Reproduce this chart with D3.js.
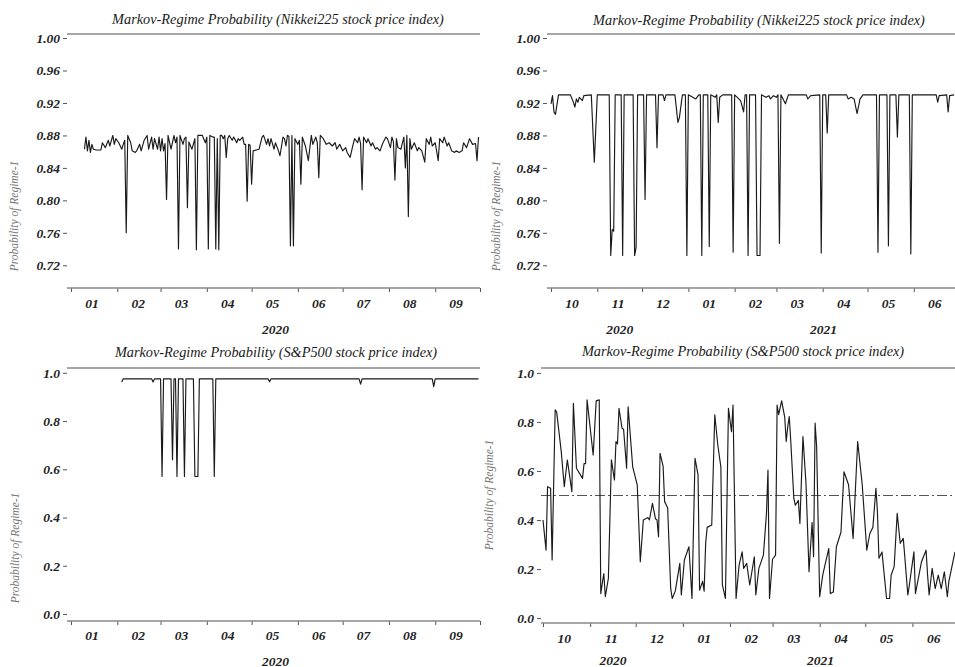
<!DOCTYPE html>
<html>
<head>
<meta charset="utf-8">
<script src="https://cdn.jsdelivr.net/npm/d3@7"></script>
<style>
  body { margin: 0; background: #fff; }
  svg text { font-family: "Liberation Serif", "Times New Roman", serif; }
  .title { font-style: italic; font-size: 14.3px; fill: #1a1a1a; }
  .axis text, .mlabel, .ylabel-yr { font-style: italic; font-weight: bold; font-size: 13.5px; fill: #222; }
  .ytitle { font-style: italic; font-size: 11.5px; fill: #777; }
  .axis line { stroke: #555; }
  .frame { stroke: #888; stroke-width: 1.5; }
  .series { fill: none; stroke: #1a1a1a; stroke-width: 1.15; stroke-linejoin: round; }
  .ref { stroke: #555; stroke-width: 1; stroke-dasharray: 10,3,2,3; }
</style>
</head>
<body>
<svg id="chart" width="955" height="667"></svg>
<script>
(function () {
  // Nikkei225, Jan-Sep 2020
  const nikkei2020 = [
    ["2020-01-10",.863],["2020-01-11",.878],["2020-01-12",.861],["2020-01-13",.874],["2020-01-14",.859],
    ["2020-01-15",.869],["2020-01-16",.863],["2020-01-18",.862],["2020-01-21",.862],["2020-01-22",.871],
    ["2020-01-24",.865],["2020-01-26",.874],["2020-01-27",.867],["2020-01-29",.880],["2020-01-30",.869],
    ["2020-01-31",.876],["2020-02-02",.871],["2020-02-04",.863],["2020-02-05",.869],["2020-02-06",.874],
    ["2020-02-07",.760],["2020-02-08",.880],["2020-02-10",.871],["2020-02-11",.861],["2020-02-13",.859],
    ["2020-02-14",.861],["2020-02-16",.869],["2020-02-17",.861],["2020-02-19",.874],["2020-02-21",.880],
    ["2020-02-22",.863],["2020-02-24",.878],["2020-02-25",.863],["2020-02-26",.876],["2020-02-28",.863],
    ["2020-02-29",.878],["2020-03-01",.861],["2020-03-02",.876],["2020-03-03",.861],["2020-03-04",.870],
    ["2020-03-05",.801],["2020-03-06",.880],["2020-03-08",.863],["2020-03-10",.880],["2020-03-11",.871],
    ["2020-03-12",.878],["2020-03-13",.740],["2020-03-14",.880],["2020-03-16",.869],["2020-03-17",.876],
    ["2020-03-18",.878],["2020-03-19",.791],["2020-03-20",.872],["2020-03-22",.863],["2020-03-24",.876],
    ["2020-03-25",.739],["2020-03-26",.880],["2020-03-29",.880],["2020-03-31",.871],["2020-04-01",.878],
    ["2020-04-02",.740],["2020-04-03",.880],["2020-04-05",.878],["2020-04-06",.878],["2020-04-07",.740],
    ["2020-04-08",.876],["2020-04-09",.739],["2020-04-10",.880],["2020-04-11",.880],["2020-04-12",.876],
    ["2020-04-13",.880],["2020-04-14",.853],["2020-04-15",.876],["2020-04-16",.880],["2020-04-18",.874],
    ["2020-04-19",.878],["2020-04-21",.871],["2020-04-22",.876],["2020-04-23",.874],["2020-04-25",.878],
    ["2020-04-26",.869],["2020-04-27",.869],["2020-04-28",.799],["2020-04-29",.869],["2020-04-30",.868],
    ["2020-05-01",.820],["2020-05-02",.861],["2020-05-04",.862],["2020-05-06",.863],["2020-05-08",.878],
    ["2020-05-09",.880],["2020-05-11",.869],["2020-05-12",.876],["2020-05-13",.867],["2020-05-14",.876],
    ["2020-05-16",.863],["2020-05-17",.871],["2020-05-19",.861],["2020-05-20",.855],["2020-05-22",.878],
    ["2020-05-23",.876],["2020-05-24",.867],["2020-05-25",.880],["2020-05-26",.879],["2020-05-27",.744],
    ["2020-05-28",.880],["2020-05-29",.744],["2020-05-30",.876],["2020-06-01",.869],["2020-06-02",.874],
    ["2020-06-03",.820],["2020-06-04",.878],["2020-06-06",.867],["2020-06-08",.849],["2020-06-10",.880],
    ["2020-06-11",.869],["2020-06-13",.878],["2020-06-14",.871],["2020-06-15",.828],["2020-06-16",.880],
    ["2020-06-18",.876],["2020-06-20",.869],["2020-06-22",.871],["2020-06-24",.867],["2020-06-26",.871],
    ["2020-06-27",.863],["2020-06-29",.869],["2020-07-01",.861],["2020-07-03",.865],["2020-07-04",.859],
    ["2020-07-06",.853],["2020-07-08",.869],["2020-07-09",.876],["2020-07-11",.871],["2020-07-12",.878],
    ["2020-07-13",.870],["2020-07-14",.813],["2020-07-15",.878],["2020-07-17",.871],["2020-07-18",.876],
    ["2020-07-20",.867],["2020-07-21",.871],["2020-07-23",.863],["2020-07-24",.865],["2020-07-26",.861],
    ["2020-07-28",.871],["2020-07-30",.878],["2020-07-31",.876],["2020-08-02",.865],["2020-08-03",.878],
    ["2020-08-04",.872],["2020-08-05",.825],["2020-08-06",.876],["2020-08-07",.865],["2020-08-09",.863],
    ["2020-08-11",.878],["2020-08-12",.840],["2020-08-13",.880],["2020-08-14",.780],["2020-08-15",.876],
    ["2020-08-16",.863],["2020-08-18",.871],["2020-08-20",.861],["2020-08-21",.865],["2020-08-23",.861],
    ["2020-08-25",.847],["2020-08-26",.876],["2020-08-28",.869],["2020-08-29",.878],["2020-08-30",.867],
    ["2020-09-01",.871],["2020-09-03",.849],["2020-09-04",.876],["2020-09-06",.871],["2020-09-07",.878],
    ["2020-09-09",.867],["2020-09-10",.871],["2020-09-12",.861],["2020-09-14",.859],["2020-09-15",.861],
    ["2020-09-17",.859],["2020-09-19",.861],["2020-09-20",.871],["2020-09-22",.865],["2020-09-24",.876],
    ["2020-09-26",.869],["2020-09-28",.870],["2020-09-29",.849],["2020-09-30",.878]
  ];

  // Nikkei225, Oct 2020 - Jun 2021
  const nikkei2021 = [
    ["2020-10-01",.919],["2020-10-02",.929],["2020-10-03",.909],["2020-10-04",.906],["2020-10-06",.930],
    ["2020-10-14",.930],["2020-10-16",.921],["2020-10-17",.915],["2020-10-18",.925],["2020-10-19",.921],
    ["2020-10-20",.927],["2020-10-22",.923],["2020-10-23",.929],["2020-10-28",.930],["2020-10-30",.847],
    ["2020-11-01",.930],["2020-11-09",.930],["2020-11-10",.732],["2020-11-11",.764],["2020-11-12",.762],
    ["2020-11-13",.930],["2020-11-17",.930],["2020-11-18",.732],["2020-11-19",.930],["2020-11-25",.930],
    ["2020-11-26",.732],["2020-11-27",.742],["2020-11-28",.930],["2020-12-02",.930],["2020-12-03",.801],
    ["2020-12-04",.930],["2020-12-10",.930],["2020-12-11",.865],["2020-12-12",.930],["2020-12-15",.930],
    ["2020-12-16",.923],["2020-12-17",.930],["2020-12-23",.930],["2020-12-25",.896],["2020-12-26",.902],
    ["2020-12-28",.930],["2020-12-30",.930],["2020-12-31",.732],["2021-01-01",.930],["2021-01-06",.925],
    ["2021-01-08",.930],["2021-01-09",.930],["2021-01-10",.732],["2021-01-11",.930],["2021-01-14",.930],
    ["2021-01-15",.743],["2021-01-16",.930],["2021-01-19",.927],["2021-01-20",.930],["2021-01-21",.896],
    ["2021-01-22",.927],["2021-01-24",.930],["2021-01-30",.930],["2021-01-31",.736],["2021-02-01",.930],
    ["2021-02-05",.923],["2021-02-07",.909],["2021-02-08",.930],["2021-02-09",.930],["2021-02-10",.732],
    ["2021-02-11",.930],["2021-02-15",.930],["2021-02-16",.732],["2021-02-18",.732],["2021-02-19",.930],
    ["2021-02-22",.927],["2021-02-24",.929],["2021-02-25",.925],["2021-02-27",.929],["2021-03-01",.927],
    ["2021-03-02",.930],["2021-03-03",.747],["2021-03-04",.930],["2021-03-07",.919],["2021-03-09",.930],
    ["2021-03-21",.930],["2021-03-22",.925],["2021-03-24",.929],["2021-03-30",.930],["2021-03-31",.735],
    ["2021-04-01",.930],["2021-04-03",.930],["2021-04-04",.883],["2021-04-05",.930],["2021-04-17",.930],
    ["2021-04-18",.925],["2021-04-20",.927],["2021-04-22",.925],["2021-04-24",.907],["2021-04-26",.925],
    ["2021-04-28",.930],["2021-05-07",.930],["2021-05-08",.736],["2021-05-09",.930],["2021-05-14",.930],
    ["2021-05-15",.744],["2021-05-16",.930],["2021-05-20",.930],["2021-05-21",.878],["2021-05-22",.930],
    ["2021-05-29",.930],["2021-05-30",.734],["2021-05-31",.930],["2021-06-16",.930],["2021-06-17",.921],
    ["2021-06-18",.929],["2021-06-23",.930],["2021-06-24",.909],["2021-06-25",.929],["2021-06-28",.930]
  ];

  // S&P500, Feb-Sep 2020
  const sp2020 = [
    ["2020-02-04",.962],["2020-02-05",.975],["2020-02-24",.975],["2020-02-25",.962],["2020-02-26",.975],
    ["2020-03-01",.975],["2020-03-02",.57],["2020-03-03",.975],["2020-03-08",.975],["2020-03-09",.64],
    ["2020-03-10",.975],["2020-03-11",.975],["2020-03-12",.57],["2020-03-13",.975],["2020-03-16",.975],
    ["2020-03-17",.57],["2020-03-18",.975],["2020-03-23",.975],["2020-03-24",.57],["2020-03-26",.57],
    ["2020-03-27",.975],["2020-04-05",.975],["2020-04-06",.57],["2020-04-07",.975],["2020-05-12",.975],
    ["2020-05-13",.963],["2020-05-14",.975],["2020-07-12",.975],["2020-07-13",.953],["2020-07-14",.975],
    ["2020-08-30",.975],["2020-08-31",.943],["2020-09-01",.975],["2020-09-30",.975]
  ];

  // S&P500, Oct 2020 - Jun 2021
  const sp2021 = [
    ["2020-10-01",.40],["2020-10-03",.277],["2020-10-04",.536],["2020-10-06",.53],["2020-10-07",.237],
    ["2020-10-09",.849],["2020-10-10",.84],["2020-10-13",.679],["2020-10-15",.536],["2020-10-17",.645],
    ["2020-10-20",.516],["2020-10-21",.876],["2020-10-23",.611],["2020-10-27",.57],["2020-10-28",.63],
    ["2020-10-29",.63],["2020-10-30",.89],["2020-11-03",.665],["2020-11-05",.886],["2020-11-07",.89],
    ["2020-11-08",.10],["2020-11-10",.182],["2020-11-11",.087],["2020-11-13",.162],["2020-11-15",.645],
    ["2020-11-17",.563],["2020-11-18",.72],["2020-11-19",.71],["2020-11-20",.856],["2020-11-22",.774],
    ["2020-11-23",.77],["2020-11-25",.611],["2020-11-26",.862],["2020-11-29",.617],["2020-12-02",.543],
    ["2020-12-04",.23],["2020-12-06",.40],["2020-12-09",.41],["2020-12-10",.40],["2020-12-12",.468],
    ["2020-12-14",.405],["2020-12-15",.40],["2020-12-16",.332],["2020-12-17",.672],["2020-12-19",.62],
    ["2020-12-20",.475],["2020-12-22",.45],["2020-12-24",.121],["2020-12-25",.08],["2020-12-27",.11],
    ["2020-12-30",.223],["2020-12-31",.094],["2021-01-02",.237],["2021-01-05",.291],["2021-01-07",.08],
    ["2021-01-09",.652],["2021-01-11",.584],["2021-01-12",.114],["2021-01-14",.15],["2021-01-15",.11],
    ["2021-01-16",.305],["2021-01-17",.37],["2021-01-20",.38],["2021-01-22",.829],["2021-01-24",.706],
    ["2021-01-26",.617],["2021-01-27",.135],["2021-01-29",.08],["2021-01-31",.856],["2021-02-02",.76],
    ["2021-02-03",.869],["2021-02-05",.08],["2021-02-07",.216],["2021-02-09",.27],["2021-02-10",.203],
    ["2021-02-12",.223],["2021-02-14",.135],["2021-02-17",.25],["2021-02-18",.094],["2021-02-20",.203],
    ["2021-02-23",.257],["2021-02-25",.427],["2021-02-26",.604],["2021-02-27",.08],["2021-03-01",.24],
    ["2021-03-03",.257],["2021-03-04",.869],["2021-03-05",.83],["2021-03-07",.886],["2021-03-09",.82],
    ["2021-03-10",.72],["2021-03-11",.78],["2021-03-12",.822],["2021-03-13",.72],["2021-03-15",.489],
    ["2021-03-16",.46],["2021-03-18",.48],["2021-03-19",.386],["2021-03-21",.74],["2021-03-23",.55],
    ["2021-03-25",.189],["2021-03-27",.39],["2021-03-28",.25],["2021-03-29",.795],["2021-03-30",.70],
    ["2021-04-01",.087],["2021-04-03",.175],["2021-04-07",.284],["2021-04-08",.10],["2021-04-10",.106],
    ["2021-04-12",.291],["2021-04-15",.35],["2021-04-17",.597],["2021-04-20",.544],["2021-04-23",.325],
    ["2021-04-26",.72],["2021-04-29",.544],["2021-05-02",.277],["2021-05-04",.345],["2021-05-06",.37],
    ["2021-05-08",.529],["2021-05-09",.434],["2021-05-10",.244],["2021-05-12",.27],["2021-05-15",.08],
    ["2021-05-17",.08],["2021-05-18",.175],["2021-05-20",.21],["2021-05-22",.427],["2021-05-24",.305],
    ["2021-05-26",.325],["2021-05-27",.25],["2021-05-29",.094],["2021-05-30",.135],["2021-06-02",.27],
    ["2021-06-03",.10],["2021-06-07",.23],["2021-06-10",.277],["2021-06-11",.175],["2021-06-12",.094],
    ["2021-06-14",.203],["2021-06-16",.12],["2021-06-18",.175],["2021-06-20",.12],["2021-06-22",.189],
    ["2021-06-24",.087],["2021-06-25",.15],["2021-06-29",.27]
  ];

  const nikkeiTicks = [0.72, 0.76, 0.80, 0.84, 0.88, 0.92, 0.96, 1.00];
  const spTicks = [0.0, 0.2, 0.4, 0.6, 0.8, 1.0];
  const titleNikkei = "Markov-Regime Probability (Nikkei225 stock price index)";
  const titleSP = "Markov-Regime Probability (S&P500 stock price index)";
  const yTitle = "Probability of Regime-1";

  const parse = d3.timeParse("%Y-%m-%d");
  const svg = d3.select("#chart");

  function panel(cfg) {
    const g = svg.append("g");
    const x = d3.scaleTime().domain(cfg.xDomain.map(parse)).range(cfg.xRange);
    const y = d3.scaleLinear().domain(cfg.yDomain).range(cfg.yRange);

    g.append("text").attr("class", "title")
      .attr("x", cfg.titlePos[0]).attr("y", cfg.titlePos[1])
      .attr("text-anchor", "middle").text(cfg.title);

    // top frame line
    g.append("line").attr("class", "frame")
      .attr("x1", cfg.left).attr("x2", cfg.right)
      .attr("y1", y(cfg.yDomain[1])).attr("y2", y(cfg.yDomain[1]));

    // y axis, ticks only
    const ya = g.append("g").attr("class", "axis")
      .attr("transform", "translate(" + cfg.left + ",0)")
      .call(d3.axisLeft(y).tickValues(cfg.yTicks).tickSize(4).tickPadding(3)
        .tickFormat(d3.format(cfg.yFormat)));
    ya.select(".domain").remove();

    // x axis
    const x0 = cfg.yRange[0];
    const xa = g.append("g").attr("class", "axis")
      .attr("transform", "translate(0," + x0 + ")")
      .call(d3.axisBottom(x).ticks(d3.timeMonth.every(1)).tickSize(4).tickFormat(""));
    xa.select(".domain").remove();
    g.append("line").attr("class", "frame")
      .attr("x1", cfg.left).attr("x2", cfg.right).attr("y1", x0).attr("y2", x0);

    const months = d3.timeMonth.range(x.domain()[0], x.domain()[1]);
    g.selectAll(".mlabel").data(months).join("text")
      .attr("class", "mlabel")
      .attr("x", d => x(d3.timeDay.offset(d, 14)))
      .attr("y", x0 + cfg.monthDy)
      .attr("text-anchor", "middle")
      .text(d3.timeFormat("%m"));

    const years = d3.timeYear.range(d3.timeYear.floor(x.domain()[0]), x.domain()[1]);
    g.selectAll(".ylabel-yr").data(years).join("text")
      .attr("class", "ylabel-yr")
      .attr("x", d => {
        const a = d3.max([d, x.domain()[0]]);
        const b = d3.min([d3.timeYear.offset(d, 1), x.domain()[1]]);
        return (x(a) + x(b)) / 2;
      })
      .attr("y", x0 + cfg.yearDy)
      .attr("text-anchor", "middle")
      .text(d3.timeFormat("%Y"));

    g.append("text").attr("class", "ytitle")
      .attr("transform", "translate(" + cfg.yTitlePos[0] + "," + cfg.yTitlePos[1] + ") rotate(-90)")
      .attr("text-anchor", "middle").attr("dominant-baseline", "central")
      .text(yTitle);

    if (cfg.refLine !== undefined) {
      g.append("line").attr("class", "ref")
        .attr("x1", cfg.left).attr("x2", cfg.right)
        .attr("y1", y(cfg.refLine)).attr("y2", y(cfg.refLine));
    }

    const line = d3.line()
      .x(d => x(parse(d[0])))
      .y(d => y(d[1]));
    g.append("path").attr("class", "series").attr("d", line(cfg.data));
  }

  panel({
    data: nikkei2020, title: titleNikkei, titlePos: [278, 23.5],
    xDomain: ["2020-01-01", "2020-10-01"], xRange: [71, 480],
    yDomain: [0.692, 1.005], yRange: [288, 34],
    left: 67, right: 480, yTicks: nikkeiTicks, yFormat: ".2f",
    monthDy: 20, yearDy: 46, yTitlePos: [14, 216]
  });
  panel({
    data: nikkei2021, title: titleNikkei, titlePos: [759, 24.5],
    xDomain: ["2020-10-01", "2021-07-01"], xRange: [551, 958.6],
    yDomain: [0.692, 1.005], yRange: [288, 34],
    left: 547, right: 955, yTicks: nikkeiTicks, yFormat: ".2f",
    monthDy: 20, yearDy: 46, yTitlePos: [496, 216]
  });
  panel({
    data: sp2020, title: titleSP, titlePos: [276, 356.5],
    xDomain: ["2020-01-01", "2020-10-01"], xRange: [71, 480],
    yDomain: [-0.029, 1.02], yRange: [621, 368],
    left: 67, right: 480, yTicks: spTicks, yFormat: ".1f",
    monthDy: 18.5, yearDy: 44.5, yTitlePos: [15, 548]
  });
  panel({
    data: sp2021, title: titleSP, titlePos: [743, 355.5],
    xDomain: ["2020-10-01", "2021-07-01"], xRange: [543, 958],
    yDomain: [-0.02, 1.02], yRange: [623, 368],
    left: 541, right: 955, yTicks: spTicks, yFormat: ".1f", refLine: 0.5,
    monthDy: 19.5, yearDy: 41.5, yTitlePos: [489, 495]
  });
})();
</script>
</body>
</html>
